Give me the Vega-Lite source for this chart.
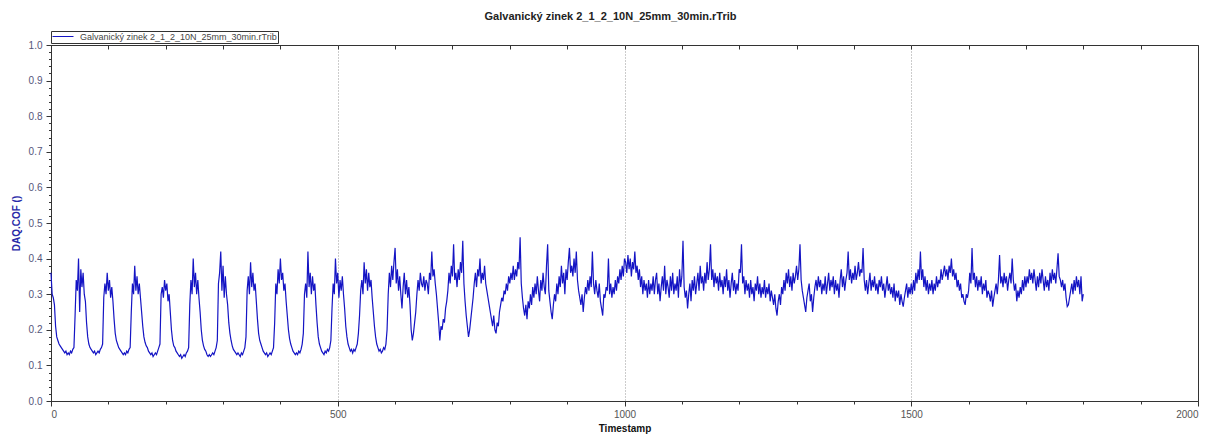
{
"$schema": "https://vega.github.io/schema/vega-lite/v6.json",
"width": 1147,
"height": 356,
"autosize": {"type": "none"},
"padding": {"left": 51, "top": 45, "right": 23, "bottom": 37},
"background": "white",
"config": {"font": "Liberation Sans", "view": {"stroke": "#333", "strokeWidth": 1}},
"title": {"text": "Galvanický zinek 2_1_2_10N_25mm_30min.rTrib", "fontSize": 11, "fontWeight": "bold", "color": "#222", "anchor": "middle", "dx": -14, "offset": 9, "font": "Liberation Sans"},
"resolve": {"axis": {"x": "independent"}},
"data": {"values": [
{"t":0,"c":0.36},{"t":2,"c":0.30},{"t":4,"c":0.29},{"t":6,"c":0.27},{"t":8,"c":0.21},{"t":10,"c":0.18},{"t":12,"c":0.17},{"t":14,"c":0.16},{"t":16,"c":0.155},{"t":18,"c":0.15},{"t":20,"c":0.145},{"t":22,"c":0.14},{"t":24,"c":0.135},{"t":26,"c":0.14},{"t":28,"c":0.13},{"t":30,"c":0.135},{"t":32,"c":0.13},{"t":34,"c":0.14},{"t":36,"c":0.135},{"t":38,"c":0.145},{"t":40,"c":0.15},
{"t":42,"c":0.24},{"t":44,"c":0.34},{"t":46,"c":0.31},{"t":48,"c":0.40},{"t":50,"c":0.25},{"t":52,"c":0.37},{"t":54,"c":0.32},{"t":56,"c":0.36},{"t":58,"c":0.30},{"t":60,"c":0.28},{"t":62,"c":0.22},{"t":64,"c":0.18},{"t":66,"c":0.16},{"t":68,"c":0.15},{"t":70,"c":0.145},{"t":72,"c":0.14},{"t":74,"c":0.135},{"t":76,"c":0.14},{"t":78,"c":0.13},{"t":80,"c":0.135},{"t":82,"c":0.14},{"t":84,"c":0.135},{"t":86,"c":0.145},{"t":88,"c":0.15},{"t":90,"c":0.16},
{"t":92,"c":0.29},{"t":94,"c":0.33},{"t":96,"c":0.30},{"t":98,"c":0.36},{"t":100,"c":0.31},{"t":102,"c":0.34},{"t":104,"c":0.29},{"t":106,"c":0.32},{"t":108,"c":0.28},{"t":110,"c":0.23},{"t":112,"c":0.19},{"t":114,"c":0.17},{"t":116,"c":0.16},{"t":118,"c":0.15},{"t":120,"c":0.145},{"t":122,"c":0.14},{"t":124,"c":0.135},{"t":126,"c":0.13},{"t":128,"c":0.135},{"t":130,"c":0.13},{"t":132,"c":0.14},{"t":134,"c":0.135},{"t":136,"c":0.145},{"t":138,"c":0.15},
{"t":140,"c":0.25},{"t":142,"c":0.33},{"t":144,"c":0.30},{"t":146,"c":0.38},{"t":148,"c":0.31},{"t":150,"c":0.35},{"t":152,"c":0.30},{"t":154,"c":0.33},{"t":156,"c":0.29},{"t":158,"c":0.25},{"t":160,"c":0.21},{"t":162,"c":0.18},{"t":164,"c":0.165},{"t":166,"c":0.155},{"t":168,"c":0.15},{"t":170,"c":0.14},{"t":172,"c":0.135},{"t":174,"c":0.13},{"t":176,"c":0.135},{"t":178,"c":0.125},{"t":180,"c":0.13},{"t":182,"c":0.135},{"t":184,"c":0.13},{"t":186,"c":0.14},{"t":188,"c":0.15},{"t":190,"c":0.16},
{"t":192,"c":0.30},{"t":194,"c":0.32},{"t":196,"c":0.29},{"t":198,"c":0.34},{"t":200,"c":0.31},{"t":202,"c":0.33},{"t":204,"c":0.28},{"t":206,"c":0.30},{"t":208,"c":0.25},{"t":210,"c":0.20},{"t":212,"c":0.17},{"t":214,"c":0.155},{"t":216,"c":0.15},{"t":218,"c":0.14},{"t":220,"c":0.135},{"t":222,"c":0.13},{"t":224,"c":0.125},{"t":226,"c":0.13},{"t":228,"c":0.12},{"t":230,"c":0.125},{"t":232,"c":0.13},{"t":234,"c":0.125},{"t":236,"c":0.135},{"t":238,"c":0.14},{"t":240,"c":0.15},
{"t":242,"c":0.27},{"t":244,"c":0.34},{"t":246,"c":0.30},{"t":248,"c":0.40},{"t":250,"c":0.32},{"t":252,"c":0.36},{"t":254,"c":0.30},{"t":256,"c":0.34},{"t":258,"c":0.29},{"t":260,"c":0.25},{"t":262,"c":0.20},{"t":264,"c":0.17},{"t":266,"c":0.155},{"t":268,"c":0.145},{"t":270,"c":0.14},{"t":272,"c":0.13},{"t":274,"c":0.125},{"t":276,"c":0.13},{"t":278,"c":0.125},{"t":280,"c":0.13},{"t":282,"c":0.135},{"t":284,"c":0.13},{"t":286,"c":0.14},{"t":288,"c":0.15},{"t":290,"c":0.17},
{"t":292,"c":0.33},{"t":294,"c":0.36},{"t":296,"c":0.42},{"t":298,"c":0.31},{"t":300,"c":0.38},{"t":302,"c":0.29},{"t":304,"c":0.35},{"t":306,"c":0.30},{"t":308,"c":0.27},{"t":310,"c":0.22},{"t":312,"c":0.19},{"t":314,"c":0.17},{"t":316,"c":0.155},{"t":318,"c":0.145},{"t":320,"c":0.14},{"t":322,"c":0.135},{"t":324,"c":0.13},{"t":326,"c":0.135},{"t":328,"c":0.13},{"t":330,"c":0.125},{"t":332,"c":0.135},{"t":334,"c":0.13},{"t":336,"c":0.14},{"t":338,"c":0.15},{"t":340,"c":0.18},
{"t":342,"c":0.31},{"t":344,"c":0.35},{"t":346,"c":0.30},{"t":348,"c":0.39},{"t":350,"c":0.32},{"t":352,"c":0.36},{"t":354,"c":0.31},{"t":356,"c":0.33},{"t":358,"c":0.28},{"t":360,"c":0.23},{"t":362,"c":0.19},{"t":364,"c":0.17},{"t":366,"c":0.16},{"t":368,"c":0.15},{"t":370,"c":0.14},{"t":372,"c":0.135},{"t":374,"c":0.13},{"t":376,"c":0.135},{"t":378,"c":0.125},{"t":380,"c":0.13},{"t":382,"c":0.135},{"t":384,"c":0.13},{"t":386,"c":0.14},{"t":388,"c":0.15},
{"t":390,"c":0.22},{"t":392,"c":0.33},{"t":394,"c":0.30},{"t":396,"c":0.37},{"t":398,"c":0.33},{"t":400,"c":0.40},{"t":402,"c":0.34},{"t":404,"c":0.36},{"t":406,"c":0.31},{"t":408,"c":0.33},{"t":410,"c":0.28},{"t":412,"c":0.24},{"t":414,"c":0.20},{"t":416,"c":0.175},{"t":418,"c":0.16},{"t":420,"c":0.15},{"t":422,"c":0.14},{"t":424,"c":0.135},{"t":426,"c":0.13},{"t":428,"c":0.135},{"t":430,"c":0.13},{"t":432,"c":0.14},{"t":434,"c":0.135},{"t":436,"c":0.145},{"t":438,"c":0.16},{"t":440,"c":0.19},
{"t":442,"c":0.30},{"t":444,"c":0.33},{"t":446,"c":0.29},{"t":448,"c":0.42},{"t":450,"c":0.32},{"t":452,"c":0.36},{"t":454,"c":0.30},{"t":456,"c":0.35},{"t":458,"c":0.31},{"t":460,"c":0.33},{"t":462,"c":0.27},{"t":464,"c":0.22},{"t":466,"c":0.18},{"t":468,"c":0.16},{"t":470,"c":0.15},{"t":472,"c":0.14},{"t":474,"c":0.135},{"t":476,"c":0.13},{"t":478,"c":0.14},{"t":480,"c":0.135},{"t":482,"c":0.145},{"t":484,"c":0.14},{"t":486,"c":0.15},{"t":488,"c":0.17},{"t":490,"c":0.26},
{"t":492,"c":0.33},{"t":494,"c":0.30},{"t":496,"c":0.40},{"t":498,"c":0.33},{"t":500,"c":0.36},{"t":502,"c":0.29},{"t":504,"c":0.34},{"t":506,"c":0.31},{"t":508,"c":0.35},{"t":510,"c":0.30},{"t":512,"c":0.26},{"t":514,"c":0.21},{"t":516,"c":0.18},{"t":518,"c":0.16},{"t":520,"c":0.15},{"t":522,"c":0.14},{"t":524,"c":0.145},{"t":526,"c":0.135},{"t":528,"c":0.145},{"t":530,"c":0.14},{"t":532,"c":0.15},{"t":534,"c":0.16},{"t":536,"c":0.19},{"t":538,"c":0.24},
{"t":540,"c":0.31},{"t":542,"c":0.34},{"t":544,"c":0.30},{"t":546,"c":0.39},{"t":548,"c":0.33},{"t":550,"c":0.37},{"t":552,"c":0.31},{"t":554,"c":0.36},{"t":556,"c":0.32},{"t":558,"c":0.34},{"t":560,"c":0.29},{"t":562,"c":0.25},{"t":564,"c":0.21},{"t":566,"c":0.18},{"t":568,"c":0.16},{"t":570,"c":0.15},{"t":572,"c":0.14},{"t":574,"c":0.145},{"t":576,"c":0.135},{"t":578,"c":0.14},{"t":580,"c":0.15},{"t":582,"c":0.145},{"t":584,"c":0.16},{"t":586,"c":0.20},
{"t":588,"c":0.30},{"t":590,"c":0.36},{"t":592,"c":0.32},{"t":594,"c":0.38},{"t":596,"c":0.34},{"t":598,"c":0.39},{"t":600,"c":0.43},{"t":602,"c":0.33},{"t":604,"c":0.37},{"t":606,"c":0.31},{"t":608,"c":0.35},{"t":610,"c":0.30},{"t":612,"c":0.26},{"t":614,"c":0.32},{"t":616,"c":0.36},{"t":618,"c":0.30},{"t":620,"c":0.34},{"t":622,"c":0.29},{"t":624,"c":0.32},{"t":626,"c":0.27},{"t":628,"c":0.20},{"t":630,"c":0.17},{"t":632,"c":0.19},{"t":634,"c":0.22},{"t":636,"c":0.25},{"t":638,"c":0.30},
{"t":640,"c":0.34},{"t":642,"c":0.31},{"t":644,"c":0.36},{"t":646,"c":0.33},{"t":648,"c":0.32},{"t":650,"c":0.35},{"t":652,"c":0.31},{"t":654,"c":0.34},{"t":656,"c":0.33},{"t":658,"c":0.30},{"t":660,"c":0.36},{"t":662,"c":0.34},{"t":664,"c":0.42},{"t":666,"c":0.35},{"t":668,"c":0.37},{"t":670,"c":0.33},{"t":672,"c":0.30},{"t":674,"c":0.26},{"t":676,"c":0.22},{"t":678,"c":0.17},{"t":680,"c":0.21},{"t":682,"c":0.20},{"t":684,"c":0.23},{"t":686,"c":0.22},{"t":688,"c":0.26},{"t":690,"c":0.28},
{"t":692,"c":0.31},{"t":694,"c":0.36},{"t":696,"c":0.33},{"t":698,"c":0.38},{"t":700,"c":0.35},{"t":702,"c":0.44},{"t":704,"c":0.34},{"t":706,"c":0.36},{"t":708,"c":0.32},{"t":710,"c":0.37},{"t":712,"c":0.34},{"t":714,"c":0.39},{"t":716,"c":0.36},{"t":718,"c":0.45},{"t":720,"c":0.33},{"t":722,"c":0.28},{"t":724,"c":0.24},{"t":726,"c":0.21},{"t":728,"c":0.18},{"t":730,"c":0.20},{"t":732,"c":0.23},{"t":734,"c":0.26},{"t":736,"c":0.29},{"t":738,"c":0.33},
{"t":740,"c":0.36},{"t":742,"c":0.32},{"t":744,"c":0.37},{"t":746,"c":0.35},{"t":748,"c":0.40},{"t":750,"c":0.33},{"t":752,"c":0.36},{"t":754,"c":0.34},{"t":756,"c":0.38},{"t":758,"c":0.33},{"t":760,"c":0.31},{"t":762,"c":0.29},{"t":764,"c":0.27},{"t":766,"c":0.25},{"t":768,"c":0.23},{"t":770,"c":0.21},{"t":772,"c":0.24},{"t":774,"c":0.20},{"t":776,"c":0.19},{"t":778,"c":0.22},{"t":780,"c":0.21},{"t":782,"c":0.25},{"t":784,"c":0.27},{"t":786,"c":0.29},{"t":788,"c":0.28},
{"t":790,"c":0.31},{"t":792,"c":0.30},{"t":794,"c":0.33},{"t":796,"c":0.31},{"t":798,"c":0.35},{"t":800,"c":0.33},{"t":802,"c":0.36},{"t":804,"c":0.34},{"t":806,"c":0.38},{"t":808,"c":0.34},{"t":810,"c":0.37},{"t":812,"c":0.35},{"t":814,"c":0.39},{"t":816,"c":0.37},{"t":818,"c":0.46},{"t":820,"c":0.33},{"t":822,"c":0.29},{"t":824,"c":0.26},{"t":826,"c":0.24},{"t":828,"c":0.27},{"t":830,"c":0.23},{"t":832,"c":0.28},{"t":834,"c":0.26},{"t":836,"c":0.30},{"t":838,"c":0.27},
{"t":840,"c":0.32},{"t":842,"c":0.29},{"t":844,"c":0.33},{"t":846,"c":0.30},{"t":848,"c":0.35},{"t":850,"c":0.31},{"t":852,"c":0.28},{"t":854,"c":0.34},{"t":856,"c":0.31},{"t":858,"c":0.36},{"t":860,"c":0.32},{"t":862,"c":0.30},{"t":864,"c":0.38},{"t":866,"c":0.44},{"t":868,"c":0.31},{"t":870,"c":0.28},{"t":872,"c":0.25},{"t":874,"c":0.23},{"t":876,"c":0.27},{"t":878,"c":0.30},{"t":880,"c":0.28},{"t":882,"c":0.33},{"t":884,"c":0.30},{"t":886,"c":0.35},{"t":888,"c":0.32},
{"t":890,"c":0.38},{"t":892,"c":0.33},{"t":894,"c":0.36},{"t":896,"c":0.30},{"t":898,"c":0.37},{"t":900,"c":0.34},{"t":902,"c":0.39},{"t":904,"c":0.43},{"t":906,"c":0.36},{"t":908,"c":0.38},{"t":910,"c":0.35},{"t":912,"c":0.40},{"t":914,"c":0.36},{"t":916,"c":0.42},{"t":918,"c":0.34},{"t":920,"c":0.31},{"t":922,"c":0.29},{"t":924,"c":0.27},{"t":926,"c":0.30},{"t":928,"c":0.25},{"t":930,"c":0.29},{"t":932,"c":0.32},{"t":934,"c":0.30},{"t":936,"c":0.34},{"t":938,"c":0.31},
{"t":940,"c":0.35},{"t":942,"c":0.32},{"t":944,"c":0.42},{"t":946,"c":0.33},{"t":948,"c":0.30},{"t":950,"c":0.34},{"t":952,"c":0.31},{"t":954,"c":0.29},{"t":956,"c":0.33},{"t":958,"c":0.28},{"t":960,"c":0.26},{"t":962,"c":0.24},{"t":964,"c":0.30},{"t":966,"c":0.29},{"t":968,"c":0.32},{"t":970,"c":0.31},{"t":972,"c":0.40},{"t":974,"c":0.30},{"t":976,"c":0.33},{"t":978,"c":0.29},{"t":980,"c":0.32},{"t":982,"c":0.30},{"t":984,"c":0.34},{"t":986,"c":0.31},{"t":988,"c":0.35},
{"t":990,"c":0.33},{"t":992,"c":0.37},{"t":994,"c":0.34},{"t":996,"c":0.38},{"t":998,"c":0.35},{"t":1000,"c":0.40},
{"t":1002,"c":0.39},{"t":1004,"c":0.36},{"t":1006,"c":0.41},{"t":1008,"c":0.37},{"t":1010,"c":0.40},{"t":1012,"c":0.35},{"t":1014,"c":0.39},{"t":1016,"c":0.37},{"t":1018,"c":0.42},{"t":1020,"c":0.36},{"t":1022,"c":0.38},{"t":1024,"c":0.34},{"t":1026,"c":0.37},{"t":1028,"c":0.32},{"t":1030,"c":0.35},{"t":1032,"c":0.30},{"t":1034,"c":0.34},{"t":1036,"c":0.31},{"t":1038,"c":0.33},{"t":1040,"c":0.29},{"t":1042,"c":0.34},{"t":1044,"c":0.30},{"t":1046,"c":0.33},{"t":1048,"c":0.31},{"t":1050,"c":0.35},
{"t":1052,"c":0.30},{"t":1054,"c":0.34},{"t":1056,"c":0.36},{"t":1058,"c":0.30},{"t":1060,"c":0.33},{"t":1062,"c":0.28},{"t":1064,"c":0.32},{"t":1066,"c":0.35},{"t":1068,"c":0.31},{"t":1070,"c":0.38},{"t":1072,"c":0.30},{"t":1074,"c":0.34},{"t":1076,"c":0.32},{"t":1078,"c":0.29},{"t":1080,"c":0.35},{"t":1082,"c":0.31},{"t":1084,"c":0.36},{"t":1086,"c":0.30},{"t":1088,"c":0.33},{"t":1090,"c":0.31},{"t":1092,"c":0.35},{"t":1094,"c":0.29},{"t":1096,"c":0.37},{"t":1098,"c":0.32},{"t":1100,"c":0.35},
{"t":1102,"c":0.45},{"t":1104,"c":0.32},{"t":1106,"c":0.29},{"t":1108,"c":0.31},{"t":1110,"c":0.26},{"t":1112,"c":0.30},{"t":1114,"c":0.33},{"t":1116,"c":0.28},{"t":1118,"c":0.34},{"t":1120,"c":0.31},{"t":1122,"c":0.35},{"t":1124,"c":0.30},{"t":1126,"c":0.33},{"t":1128,"c":0.36},{"t":1130,"c":0.31},{"t":1132,"c":0.38},{"t":1134,"c":0.33},{"t":1136,"c":0.35},{"t":1138,"c":0.31},{"t":1140,"c":0.36},{"t":1142,"c":0.33},{"t":1144,"c":0.39},{"t":1146,"c":0.34},{"t":1148,"c":0.37},{"t":1150,"c":0.44},
{"t":1152,"c":0.34},{"t":1154,"c":0.37},{"t":1156,"c":0.32},{"t":1158,"c":0.36},{"t":1160,"c":0.33},{"t":1162,"c":0.35},{"t":1164,"c":0.31},{"t":1166,"c":0.36},{"t":1168,"c":0.32},{"t":1170,"c":0.34},{"t":1172,"c":0.30},{"t":1174,"c":0.35},{"t":1176,"c":0.32},{"t":1178,"c":0.37},{"t":1180,"c":0.31},{"t":1182,"c":0.34},{"t":1184,"c":0.29},{"t":1186,"c":0.33},{"t":1188,"c":0.36},{"t":1190,"c":0.31},{"t":1192,"c":0.34},{"t":1194,"c":0.30},{"t":1196,"c":0.33},{"t":1198,"c":0.31},{"t":1200,"c":0.37},
{"t":1202,"c":0.36},{"t":1204,"c":0.44},{"t":1206,"c":0.33},{"t":1208,"c":0.35},{"t":1210,"c":0.30},{"t":1212,"c":0.34},{"t":1214,"c":0.31},{"t":1216,"c":0.33},{"t":1218,"c":0.29},{"t":1220,"c":0.34},{"t":1222,"c":0.30},{"t":1224,"c":0.32},{"t":1226,"c":0.28},{"t":1228,"c":0.33},{"t":1230,"c":0.31},{"t":1232,"c":0.35},{"t":1234,"c":0.30},{"t":1236,"c":0.33},{"t":1238,"c":0.29},{"t":1240,"c":0.32},{"t":1242,"c":0.30},{"t":1244,"c":0.34},{"t":1246,"c":0.29},{"t":1248,"c":0.32},{"t":1250,"c":0.30},
{"t":1252,"c":0.33},{"t":1254,"c":0.28},{"t":1256,"c":0.31},{"t":1258,"c":0.29},{"t":1260,"c":0.27},{"t":1262,"c":0.30},{"t":1264,"c":0.26},{"t":1266,"c":0.24},{"t":1268,"c":0.28},{"t":1270,"c":0.30},{"t":1272,"c":0.27},{"t":1274,"c":0.32},{"t":1276,"c":0.30},{"t":1278,"c":0.34},{"t":1280,"c":0.31},{"t":1282,"c":0.36},{"t":1284,"c":0.33},{"t":1286,"c":0.37},{"t":1288,"c":0.32},{"t":1290,"c":0.35},{"t":1292,"c":0.31},{"t":1294,"c":0.36},{"t":1296,"c":0.33},{"t":1298,"c":0.35},{"t":1300,"c":0.38},
{"t":1302,"c":0.34},{"t":1304,"c":0.37},{"t":1306,"c":0.44},{"t":1308,"c":0.34},{"t":1310,"c":0.31},{"t":1312,"c":0.29},{"t":1314,"c":0.27},{"t":1316,"c":0.25},{"t":1318,"c":0.29},{"t":1320,"c":0.31},{"t":1322,"c":0.33},{"t":1324,"c":0.28},{"t":1326,"c":0.30},{"t":1328,"c":0.25},{"t":1330,"c":0.29},{"t":1332,"c":0.32},{"t":1334,"c":0.34},{"t":1336,"c":0.31},{"t":1338,"c":0.35},{"t":1340,"c":0.32},{"t":1342,"c":0.34},{"t":1344,"c":0.30},{"t":1346,"c":0.33},{"t":1348,"c":0.31},{"t":1350,"c":0.35},
{"t":1352,"c":0.30},{"t":1354,"c":0.33},{"t":1356,"c":0.36},{"t":1358,"c":0.31},{"t":1360,"c":0.34},{"t":1362,"c":0.32},{"t":1364,"c":0.35},{"t":1366,"c":0.30},{"t":1368,"c":0.34},{"t":1370,"c":0.31},{"t":1372,"c":0.33},{"t":1374,"c":0.29},{"t":1376,"c":0.34},{"t":1378,"c":0.37},{"t":1380,"c":0.32},{"t":1382,"c":0.35},{"t":1384,"c":0.31},{"t":1386,"c":0.34},{"t":1388,"c":0.36},{"t":1390,"c":0.42},{"t":1392,"c":0.34},{"t":1394,"c":0.37},{"t":1396,"c":0.33},{"t":1398,"c":0.36},{"t":1400,"c":0.34},
{"t":1402,"c":0.38},{"t":1404,"c":0.34},{"t":1406,"c":0.36},{"t":1408,"c":0.39},{"t":1410,"c":0.35},{"t":1412,"c":0.37},{"t":1414,"c":0.36},{"t":1416,"c":0.43},{"t":1418,"c":0.34},{"t":1420,"c":0.31},{"t":1422,"c":0.34},{"t":1424,"c":0.30},{"t":1426,"c":0.33},{"t":1428,"c":0.36},{"t":1430,"c":0.31},{"t":1432,"c":0.34},{"t":1434,"c":0.32},{"t":1436,"c":0.35},{"t":1438,"c":0.31},{"t":1440,"c":0.33},{"t":1442,"c":0.30},{"t":1444,"c":0.34},{"t":1446,"c":0.32},{"t":1448,"c":0.35},{"t":1450,"c":0.31},
{"t":1452,"c":0.33},{"t":1454,"c":0.29},{"t":1456,"c":0.32},{"t":1458,"c":0.35},{"t":1460,"c":0.31},{"t":1462,"c":0.33},{"t":1464,"c":0.30},{"t":1466,"c":0.32},{"t":1468,"c":0.29},{"t":1470,"c":0.33},{"t":1472,"c":0.28},{"t":1474,"c":0.31},{"t":1476,"c":0.29},{"t":1478,"c":0.31},{"t":1480,"c":0.27},{"t":1482,"c":0.30},{"t":1484,"c":0.28},{"t":1486,"c":0.265},{"t":1488,"c":0.29},{"t":1490,"c":0.31},{"t":1492,"c":0.33},{"t":1494,"c":0.29},{"t":1496,"c":0.32},{"t":1498,"c":0.30},{"t":1500,"c":0.33},
{"t":1502,"c":0.30},{"t":1504,"c":0.34},{"t":1506,"c":0.31},{"t":1508,"c":0.36},{"t":1510,"c":0.33},{"t":1512,"c":0.37},{"t":1514,"c":0.34},{"t":1516,"c":0.42},{"t":1518,"c":0.34},{"t":1520,"c":0.37},{"t":1522,"c":0.32},{"t":1524,"c":0.35},{"t":1526,"c":0.31},{"t":1528,"c":0.34},{"t":1530,"c":0.30},{"t":1532,"c":0.33},{"t":1534,"c":0.31},{"t":1536,"c":0.34},{"t":1538,"c":0.30},{"t":1540,"c":0.33},{"t":1542,"c":0.31},{"t":1544,"c":0.35},{"t":1546,"c":0.32},{"t":1548,"c":0.34},{"t":1550,"c":0.33},
{"t":1552,"c":0.37},{"t":1554,"c":0.34},{"t":1556,"c":0.36},{"t":1558,"c":0.38},{"t":1560,"c":0.35},{"t":1562,"c":0.37},{"t":1564,"c":0.34},{"t":1566,"c":0.38},{"t":1568,"c":0.36},{"t":1570,"c":0.40},{"t":1572,"c":0.35},{"t":1574,"c":0.37},{"t":1576,"c":0.34},{"t":1578,"c":0.36},{"t":1580,"c":0.32},{"t":1582,"c":0.34},{"t":1584,"c":0.31},{"t":1586,"c":0.33},{"t":1588,"c":0.29},{"t":1590,"c":0.30},{"t":1592,"c":0.28},{"t":1594,"c":0.27},{"t":1596,"c":0.30},{"t":1598,"c":0.29},{"t":1600,"c":0.31},
{"t":1602,"c":0.36},{"t":1604,"c":0.33},{"t":1606,"c":0.43},{"t":1608,"c":0.34},{"t":1610,"c":0.36},{"t":1612,"c":0.32},{"t":1614,"c":0.35},{"t":1616,"c":0.31},{"t":1618,"c":0.34},{"t":1620,"c":0.32},{"t":1622,"c":0.35},{"t":1624,"c":0.30},{"t":1626,"c":0.33},{"t":1628,"c":0.31},{"t":1630,"c":0.34},{"t":1632,"c":0.29},{"t":1634,"c":0.31},{"t":1636,"c":0.30},{"t":1638,"c":0.28},{"t":1640,"c":0.31},{"t":1642,"c":0.265},{"t":1644,"c":0.29},{"t":1646,"c":0.31},{"t":1648,"c":0.33},{"t":1650,"c":0.30},
{"t":1652,"c":0.34},{"t":1654,"c":0.41},{"t":1656,"c":0.33},{"t":1658,"c":0.35},{"t":1660,"c":0.32},{"t":1662,"c":0.36},{"t":1664,"c":0.33},{"t":1666,"c":0.35},{"t":1668,"c":0.31},{"t":1670,"c":0.34},{"t":1672,"c":0.36},{"t":1674,"c":0.33},{"t":1676,"c":0.40},{"t":1678,"c":0.34},{"t":1680,"c":0.31},{"t":1682,"c":0.33},{"t":1684,"c":0.28},{"t":1686,"c":0.31},{"t":1688,"c":0.29},{"t":1690,"c":0.32},{"t":1692,"c":0.30},{"t":1694,"c":0.34},{"t":1696,"c":0.31},{"t":1698,"c":0.35},{"t":1700,"c":0.32},
{"t":1702,"c":0.35},{"t":1704,"c":0.33},{"t":1706,"c":0.37},{"t":1708,"c":0.34},{"t":1710,"c":0.36},{"t":1712,"c":0.33},{"t":1714,"c":0.37},{"t":1716,"c":0.34},{"t":1718,"c":0.31},{"t":1720,"c":0.35},{"t":1722,"c":0.32},{"t":1724,"c":0.36},{"t":1726,"c":0.33},{"t":1728,"c":0.37},{"t":1730,"c":0.34},{"t":1732,"c":0.31},{"t":1734,"c":0.35},{"t":1736,"c":0.32},{"t":1738,"c":0.34},{"t":1740,"c":0.31},{"t":1742,"c":0.36},{"t":1744,"c":0.33},{"t":1746,"c":0.37},{"t":1748,"c":0.34},{"t":1750,"c":0.36},
{"t":1752,"c":0.33},{"t":1754,"c":0.37},{"t":1756,"c":0.415},{"t":1758,"c":0.35},{"t":1760,"c":0.34},{"t":1762,"c":0.32},{"t":1764,"c":0.34},{"t":1766,"c":0.31},{"t":1768,"c":0.33},{"t":1770,"c":0.29},{"t":1772,"c":0.265},{"t":1774,"c":0.27},{"t":1776,"c":0.29},{"t":1778,"c":0.31},{"t":1780,"c":0.33},{"t":1782,"c":0.30},{"t":1784,"c":0.34},{"t":1786,"c":0.31},{"t":1788,"c":0.35},{"t":1790,"c":0.32},{"t":1792,"c":0.34},{"t":1794,"c":0.30},{"t":1796,"c":0.35},{"t":1798,"c":0.28},{"t":1800,"c":0.30}
]},
"layer": [
{
"mark": {"type": "line", "strokeWidth": 1.2, "interpolate": "linear"},
"encoding": {
"x": {"field": "t", "type": "quantitative", "scale": {"domain": [0, 2000], "nice": false, "zero": false},
"axis": {"orient": "bottom", "title": "Timestamp", "titleFontSize": 10, "titleFontWeight": "bold", "titleColor": "#111", "titlePadding": 4, "format": "d",
"values": [0,100,200,300,400,500,600,700,800,900,1000,1100,1200,1300,1400,1500,1600,1700,1800,1900,2000],
"labelExpr": "datum.value % 500 === 0 ? datum.label : ''", "labelFontSize": 10, "labelColor": "#555", "labelPadding": 3,
"tickSize": {"condition": {"test": "datum.value % 500 === 0", "value": 5}, "value": 3}, "tickColor": "#333",
"domainColor": "#333",
"grid": true, "gridDash": [1, 2], "gridColor": "#999",
"gridOpacity": {"condition": {"test": "datum.value % 500 === 0 && datum.value > 0 && datum.value < 2000", "value": 1}, "value": 0}}},
"y": {"field": "c", "type": "quantitative", "scale": {"domain": [0, 1], "nice": false, "zero": false},
"axis": {"orient": "left", "title": "DAQ.COF ()", "titleFontSize": 10, "titleFontWeight": "bold", "titleColor": "#2a2aa8", "titlePadding": 7,
"values": [0,0.02,0.04,0.06,0.08,0.1,0.12,0.14,0.16,0.18,0.2,0.22,0.24,0.26,0.28,0.3,0.32,0.34,0.36,0.38,0.4,0.42,0.44,0.46,0.48,0.5,0.52,0.54,0.56,0.58,0.6,0.62,0.64,0.66,0.68,0.7,0.72,0.74,0.76,0.78,0.8,0.82,0.84,0.86,0.88,0.9,0.92,0.94,0.96,0.98,1.0],
"labelExpr": "abs(datum.value*10 - round(datum.value*10)) < 0.01 ? format(datum.value, '.1f') : ''", "labelFontSize": 10, "labelColor": "#55557a", "labelPadding": 4,
"tickSize": {"condition": {"test": "abs(datum.value*10 - round(datum.value*10)) < 0.01", "value": 5}, "value": 2.5}, "tickColor": "#333",
"domainColor": "#333", "grid": false}},
"color": {"datum": "Galvanický zinek 2_1_2_10N_25mm_30min.rTrib", "type": "nominal",
"scale": {"range": ["#1414c4"]},
"legend": {"title": null, "orient": "none", "legendX": 0, "legendY": -14, "direction": "vertical",
"symbolType": "stroke", "symbolSize": 441, "symbolStrokeWidth": 1,
"labelFontSize": 9, "labelColor": "#444", "labelOffset": 6, "labelLimit": 0, "padding": 1, "clipHeight": 9,
"strokeColor": "#333", "fillColor": "white"}}
}
},
{
"mark": {"type": "point", "opacity": 0},
"encoding": {
"x": {"field": "t", "type": "quantitative",
"axis": {"orient": "top", "title": null, "labels": false, "grid": false, "domain": false,
"values": [0,100,200,300,400,500,600,700,800,900,1000,1100,1200,1300,1400,1500,1600,1700,1800,1900,2000],
"tickSize": -4, "tickColor": "#333"}}
}
}
]
}
